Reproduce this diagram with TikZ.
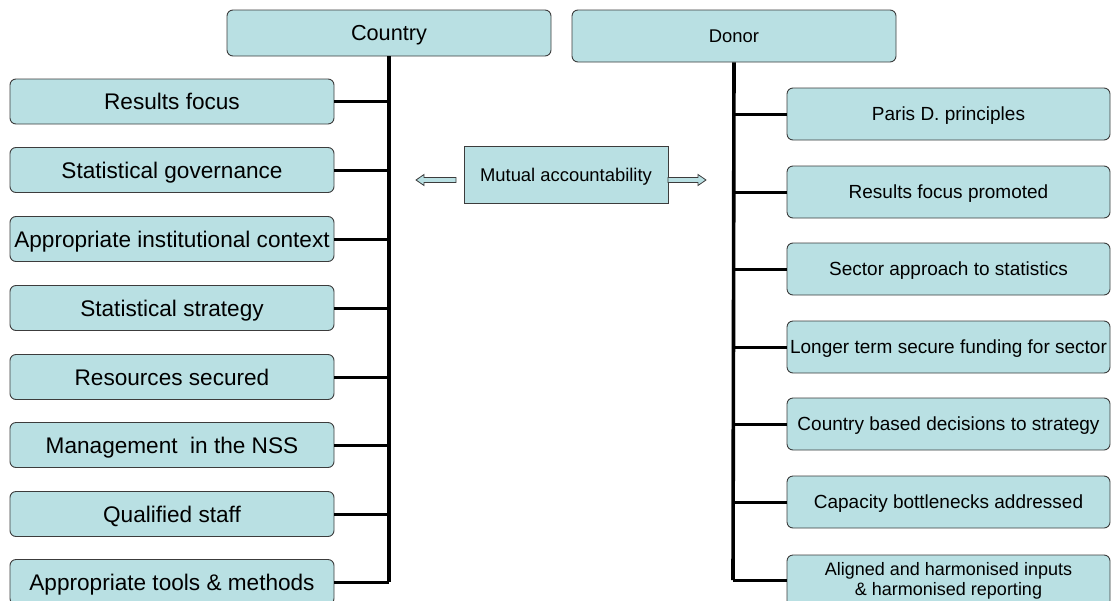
\documentclass[tikz,border=0pt]{standalone}
\usepackage{fontspec}
\setmainfont{Liberation Sans}
\definecolor{boxfill}{RGB}{185,224,227}
\definecolor{boxline}{RGB}{60,60,60}
\tikzset{
  rbox/.style={draw=boxline, line width=0.9pt, fill=boxfill, rounded corners=6pt, inner sep=0pt, align=center, text=black},
  leftbox/.style={rbox, minimum width=324pt, minimum height=45pt, font=\fontsize{22.6}{25}\selectfont, text height=16.2pt, text depth=0pt},
  rightbox/.style={rbox, minimum width=323pt, minimum height=52pt, font=\fontsize{19}{21}\selectfont, text height=13.6pt, text depth=0pt},
  rightbox2/.style={rbox, minimum width=323pt, minimum height=52pt, font=\fontsize{18}{20}\selectfont},
  trunk/.style={line width=3.6pt},
  branch/.style={line width=3pt},
  blockarrow/.style={draw=boxline, line width=0.8pt, fill=boxfill}
}
\begin{document}
\begin{tikzpicture}[x=1pt,y=-1pt]
\useasboundingbox (0,0) rectangle (1111,600);
\clip (0,0) rectangle (1111,600);
% top boxes
\node[rbox, minimum width=324pt, minimum height=46pt, font=\fontsize{21.7}{24}\selectfont, text height=15.5pt, text depth=0pt] (country) at (389,33) {Country};
\node[rbox, minimum width=324pt, minimum height=52pt, font=\fontsize{18.4}{20}\selectfont, text height=13.2pt, text depth=0pt] (donor) at (734,36) {Donor};
% mutual accountability
\node[draw=boxline, line width=0.9pt, fill=boxfill, minimum width=204pt, minimum height=57pt, inner sep=0pt, text height=13.2pt, text depth=0pt, font=\fontsize{18.4}{20}\selectfont] (mutual) at (566,174.5) {Mutual accountability};
\draw[blockarrow] (456,177.5) -- (424,177.5) -- (424,174.5) -- (416,180) -- (424,185.5) -- (424,182.5) -- (456,182.5) -- cycle;
\draw[blockarrow] (668,177.5) -- (698,177.5) -- (698,174.5) -- (706,180) -- (698,185.5) -- (698,182.5) -- (668,182.5) -- cycle;
% left boxes
\node[leftbox] (l1) at (172,101.5) {Results focus};
\node[leftbox] (l2) at (172,170) {Statistical governance};
\node[leftbox] (l3) at (172,239) {Appropriate institutional context};
\node[leftbox] (l4) at (172,308) {Statistical strategy};
\node[leftbox] (l5) at (172,377) {Resources secured};
\node[leftbox] (l6) at (172,445) {Management\ \ in the NSS};
\node[leftbox] (l7) at (172,514) {Qualified staff};
\node[leftbox] (l8) at (172,582) {Appropriate tools \& methods};
% right boxes
\node[rightbox] (r1) at (948.5,114) {Paris D. principles};
\node[rightbox] (r2) at (948.5,192) {Results focus promoted};
\node[rightbox] (r3) at (948.5,269) {Sector approach to statistics};
\node[rightbox] (r4) at (948.5,347) {Longer term secure funding for sector};
\node[rightbox] (r5) at (948.5,424) {Country based decisions to strategy};
\node[rightbox] (r6) at (948.5,502) {Capacity bottlenecks addressed};
\node[rightbox2] (r7) at (948.5,581) {Aligned and harmonised inputs\\ \& harmonised reporting};
% trunks
\coordinate (lbot) at (389,582);
\coordinate (rbot) at (733,580);
\draw[trunk] (country.south) -- (lbot);
\draw[trunk] (donor.south) -- (rbot);
% left branches
\foreach \n in {l1,l2,l3,l4,l5,l6,l7,l8}{
  \draw[branch] (\n.east) -- (\n.east -| country.south);
}
% right branches
\foreach \n in {r1,r2,r3,r4,r5,r6}{
  \draw[branch] (\n.west) -- (\n.west -| donor.south);
}
\draw[branch] (r7.west |- rbot) -- (rbot);
\end{tikzpicture}
\end{document}
